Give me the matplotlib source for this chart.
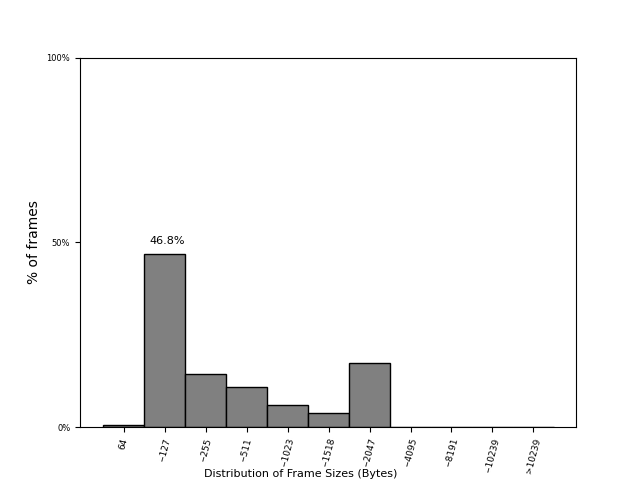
import matplotlib
matplotlib.use("Agg")
import matplotlib.pyplot as plt

# frame size buckets and share of frames (%)
size_labels = ["64", "--127", "--255", "--511", "--1023", "--1518", "--2047",
               "--4095", "--8191", "--10239", ">10239"]
frame_pct = [0.6, 46.8, 14.4, 10.8, 6.0, 3.8, 17.3, 0.0, 0.0, 0.0, 0.0]

fig, ax = plt.subplots(figsize=(6.4, 4.8), dpi=100)

pos = list(range(len(size_labels)))
ax.bar(pos, frame_pct, width=1.0, color="gray", edgecolor="black", linewidth=1)

# label the biggest bucket
top = frame_pct.index(max(frame_pct))
ax.text(pos[top] + 0.05, frame_pct[top] + 2.2, "%.1f%%" % frame_pct[top],
        ha="center", va="bottom", fontsize=8)

ax.set_xticks(pos)
ax.set_xticklabels(size_labels, rotation=75, fontsize=6.5)
ax.set_xlim(-1.07, 11.04)
ax.set_ylim(0, 100)
ax.set_yticks([0, 50, 100])
ax.set_yticklabels(["0%", "50%", "100%"], fontsize=6)

ax.set_xlabel("Distribution of Frame Sizes (Bytes)", fontsize=8)
ax.xaxis.set_label_coords(0.445, -0.112)
ax.set_ylabel("% of frames", fontsize=10)

plt.savefig("out.png")
plt.close()
